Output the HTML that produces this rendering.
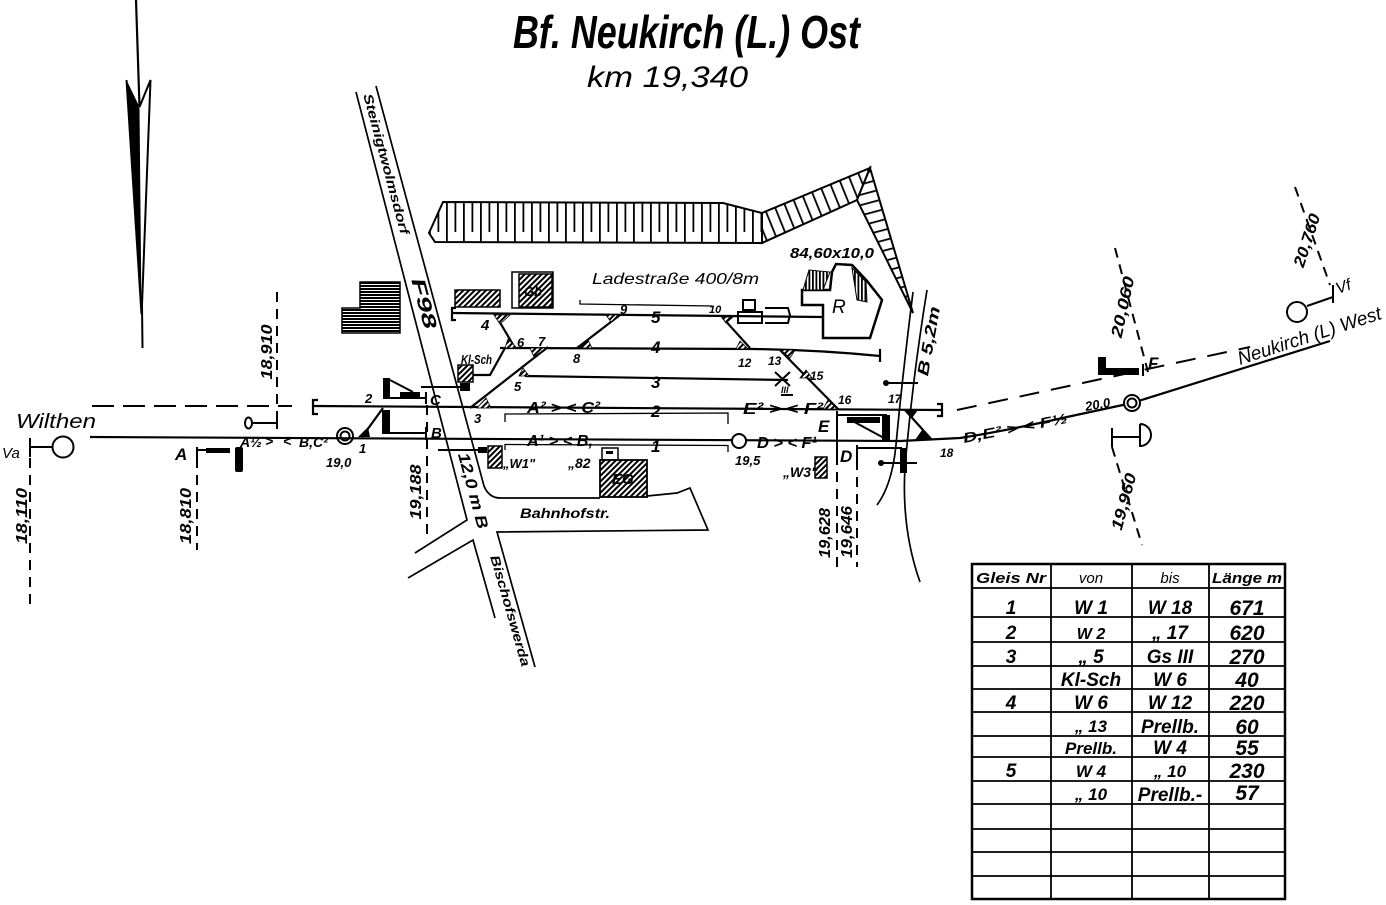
<!DOCTYPE html>
<html><head><meta charset="utf-8"><title>Bf. Neukirch (L.) Ost</title>
<style>
html,body{margin:0;padding:0;background:#fff;width:1386px;height:905px;overflow:hidden}
svg{display:block}
text{font-family:"Liberation Sans",sans-serif;font-style:italic;font-weight:bold;fill:#000}
text.n,.n text{font-weight:normal}
</style></head><body>
<svg width="1386" height="905" viewBox="0 0 1386 905" xmlns="http://www.w3.org/2000/svg">
<defs>
<pattern id="h" width="4" height="4" patternUnits="userSpaceOnUse" patternTransform="rotate(45)"><rect width="4" height="4" fill="#fff"/><rect width="2" height="4" fill="#000"/></pattern>
<pattern id="hs" width="4" height="3" patternUnits="userSpaceOnUse"><rect width="4" height="3" fill="#fff"/><rect width="4" height="2" fill="#000"/></pattern>
<pattern id="vs" width="3.5" height="4" patternUnits="userSpaceOnUse"><rect width="3.5" height="4" fill="#fff"/><rect width="1.8" height="4" fill="#000"/></pattern>
<pattern id="emb" x="446" y="202" width="17" height="60" patternUnits="userSpaceOnUse"><rect width="17" height="60" fill="#fff"/><rect x="0" y="0" width="1.8" height="40" fill="#000"/><rect x="8.5" y="0" width="1.8" height="30" fill="#000"/></pattern>
<pattern id="emb2" width="10" height="40" patternUnits="userSpaceOnUse" patternTransform="rotate(-22)"><rect width="10" height="40" fill="#fff"/><rect width="1.8" height="40" fill="#000"/></pattern>
<pattern id="emb3" width="40" height="10" patternUnits="userSpaceOnUse" patternTransform="rotate(-15)"><rect width="40" height="10" fill="#fff"/><rect width="40" height="1.8" fill="#000"/></pattern>
</defs>
<rect width="1386" height="905" fill="#fff"/>

<!-- North arrow -->
<path d="M136 0 L139.5 107" stroke="#000" stroke-width="2.2" fill="none"/>
<polygon points="126.5,80 139.5,107 141.5,314" fill="#000"/>
<path d="M126.5 80 L141.5 314" stroke="#000" stroke-width="2"/>
<path d="M139.5 107 L150.5 80 L142 305 L142.5 348" stroke="#000" stroke-width="2" fill="none"/>

<!-- Title -->
<text x="513" y="48" font-size="46" textLength="347" lengthAdjust="spacingAndGlyphs">Bf. Neukirch (L.) Ost</text>
<text class="n" x="587" y="87" font-size="30" textLength="161" lengthAdjust="spacingAndGlyphs">km  19,340</text>

<!-- Embankments -->
<polygon points="443,202 723,203 762,213 762,243 435,242 429,233" fill="url(#emb)" stroke="#000" stroke-width="2"/>
<polygon points="762,213 870,168 857,200 762,243" fill="url(#emb2)" stroke="#000" stroke-width="2"/>
<polygon points="870,168 913,313 857,200" fill="url(#emb3)" stroke="#000" stroke-width="2"/>

<!-- Roads -->
<g stroke="#000" stroke-width="1.7" fill="none">
<path d="M356 92 L467 520 L415 553"/>
<path d="M376 86 L484 486 Q489 498 500 498 L600 498"/>
<path d="M647 496 L677 493 L690 488 L708 530 L497 532 L535 667"/>
<path d="M408 578 L473 540 L495 618"/>
<path d="M913 292 Q902 380 896 445 Q892 485 877 505"/>
<path d="M927 290 Q914 370 907 445 Q898 520 920 582"/>
</g>
<text font-size="13" text-anchor="middle" transform="translate(382,165) rotate(75)" textLength="145" lengthAdjust="spacingAndGlyphs">Steinigtwolmsdorf</text>
<text font-size="19" text-anchor="middle" transform="translate(418,305) rotate(75)" textLength="52" lengthAdjust="spacingAndGlyphs">F98</text>
<text font-size="16" text-anchor="middle" transform="translate(468,492) rotate(75)" textLength="78" lengthAdjust="spacingAndGlyphs">12,0 m B</text>
<text font-size="13" text-anchor="middle" transform="translate(506,612) rotate(74)" textLength="115" lengthAdjust="spacingAndGlyphs">Bischofswerda</text>
<text font-size="14" x="520" y="518" textLength="90" lengthAdjust="spacingAndGlyphs">Bahnhofstr.</text>
<text font-size="16" text-anchor="middle" transform="translate(934,342) rotate(-80)" textLength="70" lengthAdjust="spacingAndGlyphs">B 5,2m</text>

<!-- Buildings -->
<polygon points="360,282 400,282 400,333 342,333 342,308 360,308" fill="url(#hs)" stroke="#000" stroke-width="1.5"/>
<rect x="455" y="290" width="45" height="17" fill="url(#h)" stroke="#000" stroke-width="1.5"/>
<rect x="512" y="272" width="41" height="36" fill="#fff" stroke="#000" stroke-width="1.5"/>
<rect x="519" y="274" width="33" height="33" fill="url(#h)" stroke="#000" stroke-width="1.5"/>
<text font-size="13" x="524" y="296">Gb</text>
<rect x="602" y="448" width="16" height="12" fill="#fff" stroke="#000" stroke-width="1.5"/>
<rect x="606" y="451" width="7" height="3" fill="#000"/>
<rect x="600" y="460" width="47" height="37" fill="url(#h)" stroke="#000" stroke-width="1.8"/>
<text font-size="15" x="612" y="484">EG</text>
<polygon points="802,290 802,305 823,305 823,338 870,338 882,300 867,281 852,265 836,264 832,272 830,290" fill="#fff" stroke="#000" stroke-width="2.5"/>
<polygon points="803,290 809,270 830,272 823,290" fill="url(#vs)" stroke="#000" stroke-width="1"/>
<polygon points="852,268 866,282 867,302 857,300" fill="url(#vs)" stroke="#000" stroke-width="1"/>
<text class="n" font-size="19" x="832" y="313">R</text>
<text font-size="15" x="790" y="258" textLength="84" lengthAdjust="spacingAndGlyphs">84,60x10,0</text>
<text class="n" font-size="16" x="592" y="284" textLength="167" lengthAdjust="spacingAndGlyphs">Ladestraße 400/8m</text>

<!-- Tracks -->
<g stroke="#000" stroke-width="2.2" fill="none">
<path d="M90 437 L900 441 L960 438 Q1010 430 1067 417 L1132 403 L1330 341"/>
<path d="M313 406 L942 410"/>
<path d="M318 400 L313 400 L313 414 L318 414"/>
<path d="M937 404 L942 404 L942 416 L937 416"/>
<path d="M525 376 L788 380"/>
<path d="M500 348 L755 349 Q820 350 880 356"/>
<path d="M880 349 L880 362"/>
<path d="M452 313 L822 317"/>
<path d="M456 308 L452 308 L452 320 L456 320"/>
<path d="M362 437 L383 408"/>
<path d="M470 408 L548 347"/>
<path d="M495 314 L515 348"/>
<path d="M577 348 L620 315"/>
<path d="M722 317 L750 348"/>
<path d="M780 350 L838 409"/>
<path d="M905 410 L932 440"/>
<path d="M473 375 L490 375 L505 348"/>
</g>
<path d="M580 300 L580 304 L712 306" stroke="#000" stroke-width="1.3" fill="none"/>
<g stroke="#000" stroke-width="1.3" fill="none">
<path d="M505 422 L505 414 L728 413 L728 424"/>
<path d="M505 450 L505 444.5 L728 445.5 L728 452"/>
</g>
<g fill="#000">
<polygon points="358,437 370,437 368,427"/>
<polygon points="918,410 905,410 912,418"/>
<polygon points="915,440 932,440 922,430"/>
</g>
<g fill="url(#h)" stroke="#000" stroke-width="0.8">
<polygon points="477,408 491,408 486,398"/>
<polygon points="494,315 510,315 500,324"/>
<polygon points="505,348 517,348 508,339"/>
<polygon points="530,348 546,348 534,357"/>
<polygon points="519,376 529,376 523,368"/>
<polygon points="580,348 592,348 588,340"/>
<polygon points="606,315 618,315 611,322"/>
<polygon points="722,317 733,317 726,323"/>
<polygon points="736,349 748,349 740,341"/>
<polygon points="781,350 795,350 790,358"/>
<polygon points="800,378 812,378 806,370"/>
<polygon points="823,409 837,409 828,400"/>
</g>

<!-- dashed extras -->
<g stroke="#000" stroke-width="2" fill="none">
<path d="M92 406 L292 406" stroke-dasharray="22 9"/>
<path d="M957 410 L1250 347" stroke-dasharray="20 12"/>
<path d="M30 458 L30 605" stroke-dasharray="10 7"/>
<path d="M197 458 L197 550" stroke-dasharray="10 7"/>
<path d="M277 292 L277 420" stroke-dasharray="10 7"/>
<path d="M427 405 L427 540" stroke-dasharray="10 7"/>
<path d="M837 455 L837 567" stroke-dasharray="10 7"/>
<path d="M857 460 L857 567" stroke-dasharray="10 7"/>
<path d="M1115 248 L1148 372" stroke-dasharray="10 7"/>
<path d="M1295 187 L1330 285" stroke-dasharray="10 7"/>
<path d="M1112 447 L1142 545" stroke-dasharray="10 7"/>
</g>

<!-- signals left -->
<g stroke="#000" stroke-width="2" fill="none">
<path d="M30 438 L30 457 M30 447 L52 447"/>
<circle cx="63" cy="447" r="10.5"/>
<path d="M197 447 L197 460 M197 450 L207 450"/>
<ellipse cx="248.5" cy="423" rx="3.5" ry="5.5"/>
<path d="M252 423 L277 423 M277 417 L277 429"/>
<circle cx="345" cy="436" r="8"/>
<circle cx="345" cy="436" r="4.5"/>
<path d="M390 380 L413 392 M383 398 L426 398 M426 392 L426 404"/>
<path d="M382 433 L426 433 M426 427 L426 440"/>
<path d="M421 387 L465 387"/>
<path d="M438 450 L483 450"/>
</g>
<g fill="#000">
<rect x="206" y="448" width="24" height="5"/>
<rect x="235" y="447" width="8" height="25" rx="2"/>
<rect x="383" y="378" width="7" height="20"/>
<rect x="400" y="392" width="20" height="6"/>
<rect x="382" y="410" width="8" height="23"/>
<rect x="460" y="383" width="10" height="8"/>
<rect x="478" y="447" width="9" height="6"/>
</g>
<rect x="458" y="365" width="15" height="17" fill="url(#h)" stroke="#000" stroke-width="1.5"/>
<rect x="488" y="446" width="14" height="22" fill="url(#h)" stroke="#000" stroke-width="1.5"/>
<rect x="815" y="457" width="12" height="21" fill="url(#h)" stroke="#000" stroke-width="1.5"/>

<!-- signals right -->
<g stroke="#000" stroke-width="2" fill="none">
<circle cx="739" cy="441" r="7" fill="#fff"/>
<path d="M837 411 L837 455 M837 415 L887 415 M847 418 L884 438"/>
<path d="M857 445 L857 460 M857 448 L902 448"/>
<path d="M775 372 L790 386 M775 386 L790 372 M781 395 L793 395"/>
<path d="M885 383 L918 383 M880 463 L917 463"/>
<circle cx="1132" cy="403" r="8" fill="#fff"/>
<circle cx="1132" cy="403" r="4.5"/>
<path d="M1112 428 L1112 447 M1112 437 L1140 437 M1140 424 L1140 446 A11 11 0 0 0 1140 424"/>
<circle cx="1297" cy="312" r="10"/>
<path d="M1307 306 L1333 297 M1333 285 L1333 303"/>
<path d="M1143 364 L1143 376"/>
<rect x="738" y="312" width="24" height="11"/>
<rect x="743" y="300" width="12" height="10"/>
<path d="M765 308 L788 308 L790 315 L788 323 L765 323"/>
</g>
<g fill="#000">
<rect x="847" y="417" width="33" height="6"/>
<rect x="882" y="415" width="8" height="25"/>
<rect x="900" y="448" width="7" height="25"/>
<circle cx="886" cy="383" r="3"/>
<circle cx="881" cy="463" r="3"/>
<rect x="1098" y="357" width="8" height="18"/>
<rect x="1098" y="368" width="41" height="7"/>
</g>

<!-- track labels -->
<g font-size="13">
<text x="240" y="447" font-size="14">A½</text>
<text x="265" y="446" font-size="14">&gt;</text>
<text x="283" y="446" font-size="14">&lt;</text>
<text x="299" y="447" font-size="14">B,C²</text>
<text x="326" y="467">19,0</text>
<text x="359" y="453">1</text>
<text x="365" y="403">2</text>
<text x="474" y="423">3</text>
<text x="514" y="391">5</text>
<text x="481" y="330" font-size="15">4</text>
<text x="517" y="347">6</text>
<text x="538" y="346">7</text>
<text x="573" y="363">8</text>
<text x="620" y="314">9</text>
<text x="709" y="313" font-size="11">10</text>
<text x="738" y="367" font-size="12">12</text>
<text x="768" y="365" font-size="12">13</text>
<text x="810" y="380" font-size="12">15</text>
<text x="838" y="404" font-size="12">16</text>
<text x="888" y="403" font-size="12">17</text>
<text x="940" y="457" font-size="12">18</text>
<text x="781" y="393" font-size="9">III</text>
<text x="735" y="465">19,5</text>
<text x="503" y="468">„W1"</text>
<text x="568" y="468" font-size="14">„82</text>
<text x="783" y="477" font-size="14">„W3"</text>
<text x="461" y="364" font-size="13" textLength="31" lengthAdjust="spacingAndGlyphs">Kl-Sch</text>
<text x="527" y="413" font-size="16" textLength="73" lengthAdjust="spacingAndGlyphs">A² &gt; &lt; C²</text>
<text x="527" y="446" font-size="16" textLength="66" lengthAdjust="spacingAndGlyphs">A¹ &gt; &lt; B,</text>
<text x="743" y="414" font-size="16" textLength="80" lengthAdjust="spacingAndGlyphs">E² &gt; &lt; F²</text>
<text x="757" y="448" font-size="16" textLength="60" lengthAdjust="spacingAndGlyphs">D &gt; &lt; F¹</text>
</g>
<g font-size="17">
<text x="651" y="323">5</text>
<text x="651" y="353">4</text>
<text x="651" y="388">3</text>
<text x="651" y="417">2</text>
<text x="651" y="452">1</text>
<text x="430" y="405" font-size="15">C</text>
<text x="431" y="438" font-size="15">B</text>
<text x="818" y="432">E</text>
<text x="840" y="462">D</text>
<text x="175" y="460">A</text>
<text x="1148" y="369" font-size="17">F</text>
</g>
<text class="n" x="16" y="428" font-size="20" textLength="80" lengthAdjust="spacingAndGlyphs">Wilthen</text>
<text class="n" x="2" y="458" font-size="15">Va</text>
<text font-size="14" transform="translate(964,443) rotate(-11)" textLength="106" lengthAdjust="spacingAndGlyphs">D,E² &gt;  &lt; F½</text>
<text font-size="13" transform="translate(1086,411) rotate(-10)">20,0</text>
<text class="n" font-size="16" transform="translate(1338,294) rotate(-20)">Vf</text>
<text class="n" font-size="19" transform="translate(1240,365) rotate(-18)" textLength="150" lengthAdjust="spacingAndGlyphs">Neukirch (L) West</text>

<!-- km markers -->
<g font-size="16" text-anchor="middle">
<text transform="translate(27,516) rotate(-90)" textLength="56" lengthAdjust="spacingAndGlyphs">18,110</text>
<text transform="translate(191,516) rotate(-90)" textLength="56" lengthAdjust="spacingAndGlyphs">18,810</text>
<text transform="translate(272,352) rotate(-90)" textLength="55" lengthAdjust="spacingAndGlyphs">18,910</text>
<text transform="translate(421,492) rotate(-90)" textLength="55" lengthAdjust="spacingAndGlyphs">19,188</text>
<text transform="translate(830,533) rotate(-90)" textLength="50" lengthAdjust="spacingAndGlyphs">19,628</text>
<text transform="translate(852,532) rotate(-90)" textLength="52" lengthAdjust="spacingAndGlyphs">19,646</text>
<text transform="translate(1128,308) rotate(-78)" textLength="62" lengthAdjust="spacingAndGlyphs">20,060</text>
<text transform="translate(1312,242) rotate(-72)" textLength="55" lengthAdjust="spacingAndGlyphs">20,760</text>
<text transform="translate(1129,503) rotate(-75)" textLength="58" lengthAdjust="spacingAndGlyphs">19,960</text>
</g>

<!-- Table -->
<g stroke="#000" fill="none">
<rect x="972" y="564" width="313" height="335" stroke-width="2.5"/>
<path stroke-width="1.8" d="M1051 564V899 M1132 564V899 M1209 564V899 M972 588H1285 M972 617H1285 M972 642H1285 M972 666H1285 M972 689H1285 M972 712H1285 M972 736H1285 M972 757H1285 M972 781H1285 M972 804H1285 M972 829H1285 M972 852H1285 M972 876H1285"/>
</g>
<g font-size="15" text-anchor="middle">
<text x="1011" y="583" textLength="70" lengthAdjust="spacingAndGlyphs">Gleis Nr</text>
<text x="1091" y="583" class="n">von</text>
<text x="1170" y="583" class="n">bis</text>
<text x="1247" y="583" textLength="70" lengthAdjust="spacingAndGlyphs">Länge m</text>
</g>
<g font-size="19" text-anchor="middle">
<text x="1011" y="614">1</text><text x="1091" y="614">W 1</text><text x="1170" y="614">W 18</text><text x="1247" y="615" font-size="21">671</text>
<text x="1011" y="639">2</text><text x="1091" y="639" font-size="16">W 2</text><text x="1170" y="639">„ 17</text><text x="1247" y="640" font-size="21">620</text>
<text x="1011" y="663">3</text><text x="1091" y="663">„ 5</text><text x="1170" y="663">Gs III</text><text x="1247" y="664" font-size="21">270</text>
<text x="1091" y="686">Kl-Sch</text><text x="1170" y="686">W 6</text><text x="1247" y="687" font-size="21">40</text>
<text x="1011" y="709">4</text><text x="1091" y="709">W 6</text><text x="1170" y="709">W 12</text><text x="1247" y="710" font-size="21">220</text>
<text x="1091" y="732" font-size="17">„ 13</text><text x="1170" y="733">Prellb.</text><text x="1247" y="734" font-size="21">60</text>
<text x="1091" y="754" font-size="17">Prellb.</text><text x="1170" y="754">W 4</text><text x="1247" y="755" font-size="21">55</text>
<text x="1011" y="777">5</text><text x="1091" y="777" font-size="17">W 4</text><text x="1170" y="777" font-size="17">„ 10</text><text x="1247" y="778" font-size="21">230</text>
<text x="1091" y="800" font-size="17">„ 10</text><text x="1170" y="801">Prellb.-</text><text x="1247" y="800" font-size="21">57</text>
</g>
</svg>
</body></html>
